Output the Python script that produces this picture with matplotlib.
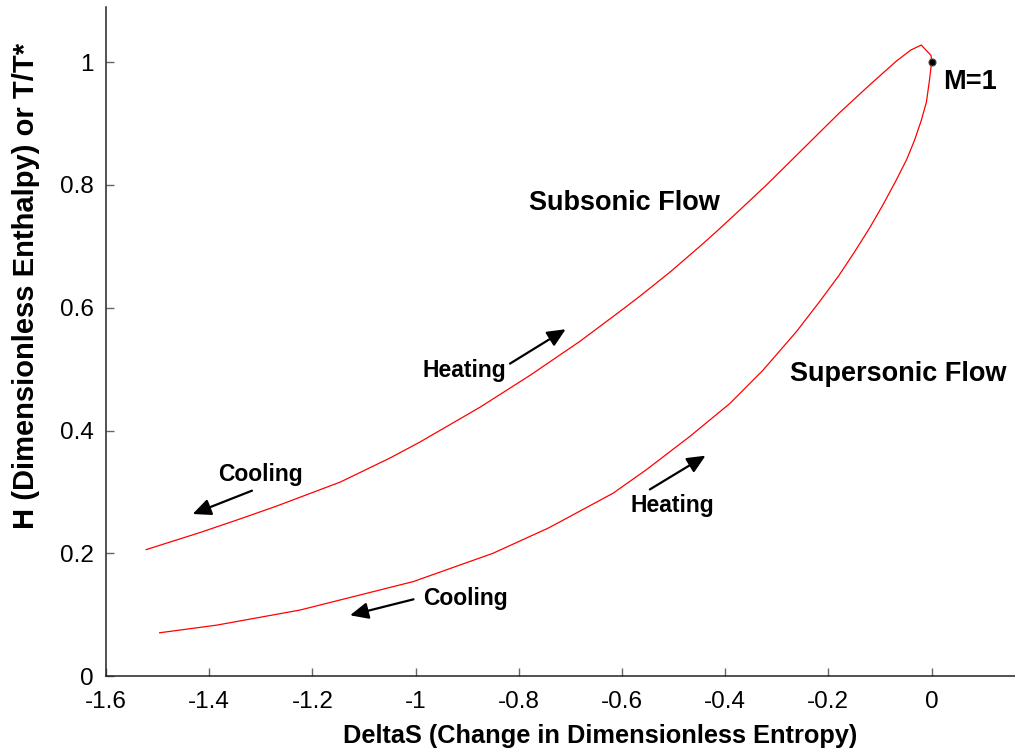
import matplotlib
matplotlib.use("Agg")
import matplotlib.pyplot as plt

plt.rcParams["font.family"] = ["Liberation Sans", "DejaVu Sans"]
plt.rcParams["axes.unicode_minus"] = False

# subsonic branch: from low-speed end up past the T/T* peak to M=1
sub_ds = [-1.522, -1.417, -1.340, -1.269, -1.146, -1.050, -0.992, -0.875,
          -0.778, -0.682, -0.604, -0.565, -0.507, -0.449, -0.417, -0.372,
          -0.320, -0.249, -0.178, -0.120, -0.068, -0.040, -0.020, -0.001,
          0.0]
sub_h = [0.206, 0.234, 0.256, 0.277, 0.316, 0.355, 0.381, 0.438,
         0.490, 0.545, 0.594, 0.619, 0.658, 0.700, 0.724, 0.759,
         0.800, 0.859, 0.918, 0.963, 1.002, 1.020, 1.028, 1.011,
         1.0]

# supersonic branch: from M=1 down to the high-Mach end
sup_ds = [0.0, -0.004, -0.010, -0.020, -0.033, -0.048, -0.069, -0.094,
          -0.120, -0.150, -0.180, -0.217, -0.262, -0.327, -0.391, -0.469,
          -0.553, -0.617, -0.714, -0.743, -0.850, -1.004, -1.224, -1.385,
          -1.496]
sup_h = [1.0, 0.971, 0.935, 0.905, 0.873, 0.842, 0.807, 0.768,
         0.730, 0.690, 0.652, 0.610, 0.561, 0.498, 0.444, 0.390,
         0.336, 0.298, 0.254, 0.241, 0.200, 0.154, 0.1075, 0.083,
         0.0705]

sonic_point = (0.0, 1.0)

x_ticks = [-1.6, -1.4, -1.2, -1, -0.8, -0.6, -0.4, -0.2, 0]
y_ticks = [0, 0.2, 0.4, 0.6, 0.8, 1]

fig = plt.figure(figsize=(10.15, 7.52), dpi=100)
ax = fig.add_axes([0.1044, 0.101, 0.8956, 0.8897])

ax.plot(sub_ds, sub_h, color="red", lw=0.9)
ax.plot(sup_ds, sup_h, color="red", lw=0.9)
ax.plot(*sonic_point, "o", ms=5, mfc="black", mec="#444444", mew=0.8)

ax.set_xlim(-1.6, 0.1617)
ax.set_ylim(0, 1.09)
ax.set_xticks(x_ticks)
ax.set_yticks(y_ticks)
ax.set_xticklabels(["%g" % v for v in x_ticks])
ax.set_yticklabels(["%g" % v for v in y_ticks])

for side in ("top", "right"):
    ax.spines[side].set_visible(False)
for side in ("left", "bottom"):
    ax.spines[side].set_linewidth(1.1)
    ax.spines[side].set_color("#222222")
ax.tick_params(direction="in", length=6, width=1, color="#666666",
               labelsize=17.5)
ax.tick_params(axis="x", pad=11)
ax.tick_params(axis="y", pad=9)

ax.set_xlabel("DeltaS (Change in Dimensionless Entropy)", fontsize=18.3,
              fontweight="bold")
ax.set_ylabel("H (Dimensionless Enthalpy) or T/T*", fontsize=21,
              fontweight="bold")
ax.xaxis.set_label_coords(0.5438, -0.072)
ax.yaxis.set_label_coords(-0.073, 0.583)

big = dict(fontsize=19.5, fontweight="bold", ha="center", va="center")
small = dict(fontsize=16.5, fontweight="bold", ha="center", va="center")
ax.text(-0.596, 0.770, "Subsonic Flow", **big)
ax.text(-0.065, 0.492, "Supersonic Flow", **big)
ax.text(0.0215, 0.967, "M=1", fontsize=19.5, fontweight="bold",
        ha="left", va="center")
ax.text(-0.906, 0.498, "Heating", **small)
ax.text(-1.301, 0.329, "Cooling", **small)
ax.text(-0.904, 0.127, "Cooling", **small)
ax.text(-0.502, 0.2785, "Heating", **small)

arrow = dict(arrowstyle="-|>,head_length=0.55,head_width=0.25",
             color="black", lw=1.6, mutation_scale=20,
             shrinkA=0, shrinkB=0)
arrows = [((-0.817, 0.509), (-0.709, 0.565)),
          ((-1.317, 0.302), (-1.432, 0.264)),
          ((-1.004, 0.125), (-1.127, 0.099)),
          ((-0.546, 0.304), (-0.438, 0.359))]
for tail, head in arrows:
    ax.annotate("", xy=head, xytext=tail, arrowprops=arrow)

fig.savefig("out.png", dpi=100)
